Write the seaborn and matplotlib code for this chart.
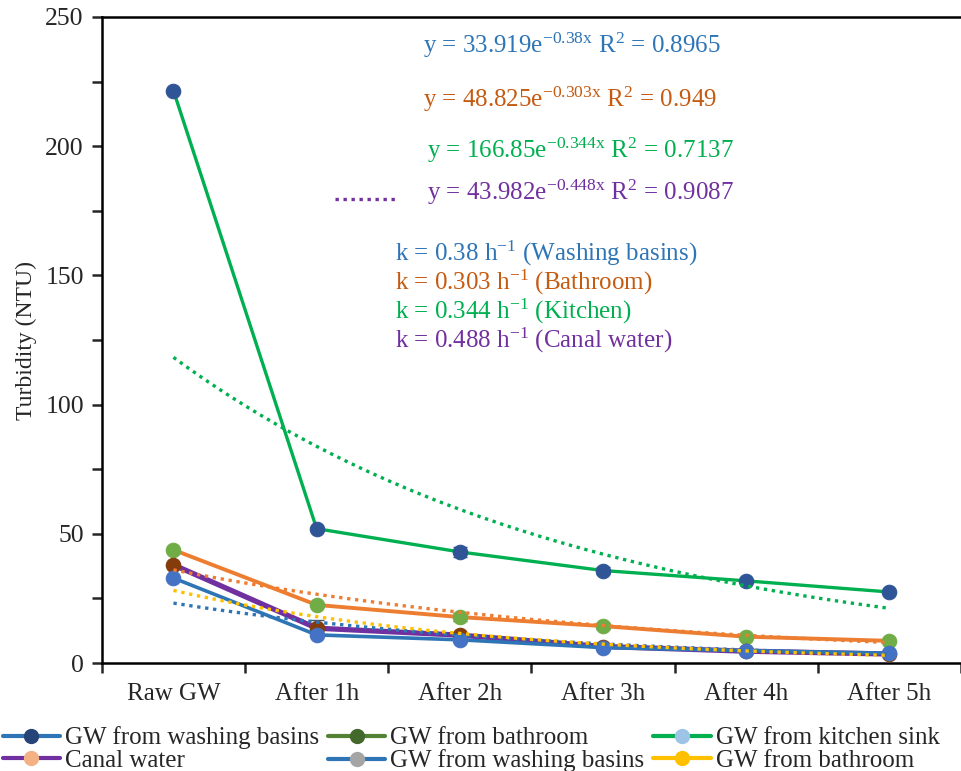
import numpy as np
import pandas as pd
import seaborn as sns
import matplotlib.pyplot as plt
from matplotlib.lines import Line2D

# values
time_labels = ["Raw GW", "After 1h", "After 2h", "After 3h", "After 4h", "After 5h"]
kitchen = [221.5, 52.0, 43.0, 35.8, 31.8, 27.5]
bathroom = [43.8, 22.5, 17.8, 14.3, 10.2, 8.6]
canal = [38.0, 13.5, 10.8, 6.4, 4.6, 3.5]
basins = [32.9, 10.9, 9.0, 6.0, 4.8, 3.8]

kitchen_err = [0, 0, 1.8, 1.5, 0, 0]
bathroom_err = [0, 0, 1.5, 1.2, 0, 0]
canal_err = [0, 3.0, 0, 0, 0, 0]

# exponential trendlines printed on the chart: y = a*exp(-b*x), x = 1..6
fit_a = [33.919, 48.825, 166.85, 43.982]
fit_b = [0.38, 0.303, 0.344, 0.448]
fit_r2 = ["0.8965", "0.949", "0.7137", "0.9087"]
fit_colors = ["#2E75B6", "#ED7D31", "#00B050", "#FFC000"]
eq_colors = ["#2E75B6", "#C55A11", "#00B050", "#7030A0"]

k_labels = ["k = 0.38 h$^{-1}$ (Washing basins)", "k = 0.303 h$^{-1}$ (Bathroom)",
            "k = 0.344 h$^{-1}$ (Kitchen)", "k = 0.488 h$^{-1}$ (Canal water)"]

legend_labels = ["GW from washing basins", "GW from bathroom", "GW from kitchen sink",
                 "Canal water", "GW from washing basins", "GW from bathroom"]
legend_lines = ["#2E75B6", "#548235", "#00B050", "#7030A0", "#2E75B6", "#FFC000"]
legend_marks = ["#264478", "#43682B", "#9DC3E6", "#F4B183", "#A5A5A5", "#FFC000"]

sns.set_style("ticks")
plt.rcParams["font.family"] = ["Liberation Serif", "DejaVu Serif"]
plt.rcParams["mathtext.fontset"] = "custom"
plt.rcParams["mathtext.rm"] = "Liberation Serif"
plt.rcParams["mathtext.default"] = "regular"

x = np.arange(len(time_labels))
df = pd.DataFrame({"x": x, "kitchen": kitchen, "bathroom": bathroom,
                   "canal": canal, "basins": basins})

fig = plt.figure(figsize=(9.61, 7.71), dpi=100)
ax = fig.add_axes([0.106, 0.14, 0.894, 0.838])

series = [
    ("kitchen", "#00B050", "#2F5597", 2.4, kitchen_err),
    ("bathroom", "#ED7D31", "#70AD47", 2.8, bathroom_err),
    ("canal", "#7030A0", "#843C0C", 3.8, canal_err),
    ("basins", "#2E75B6", "#4472C4", 2.6, None),
]
for name, col, mcol, lw, err in series:
    if err is not None:
        ax.errorbar(df["x"], df[name], yerr=err, fmt="none", ecolor="#44546A",
                    elinewidth=1.2, capsize=5, zorder=2)
    sns.lineplot(data=df, x="x", y=name, color=col, lw=lw, marker="o",
                 markersize=10.5, markerfacecolor=mcol, markeredgecolor=mcol, ax=ax, zorder=3)

# dotted exponential trendlines
xs = np.linspace(0, 5, 200)
for a, b, col in zip(fit_a, fit_b, fit_colors):
    ax.plot(xs, a * np.exp(-b * (xs + 1)), color=col, lw=2.4,
            linestyle=(0, (1, 1.4)), zorder=4)

# equation labels
eq_y = [239, 218.3, 198.5, 182.3]
eq_x = [1.74, 1.74, 1.77, 1.77]
for i in range(4):
    ax.text(eq_x[i], eq_y[i],
            "y = %se$^{-%sx}$ R$^{2}$ = %s" % (fit_a[i], fit_b[i], fit_r2[i]),
            color=eq_colors[i], fontsize=18, va="center", ha="left")
ax.plot([1.125, 1.578], [179.6, 179.6], color="#7030A0", lw=2.4,
        linestyle=(0, (1, 1.4)))
for i, lab in enumerate(k_labels):
    ax.text(1.544, 158.6 - i * 11.2, lab, color=eq_colors[i], fontsize=18,
            va="center", ha="left")

ax.set_xlim(-0.5, 5.5)
ax.set_ylim(0, 250)
ax.set_xticks(x)
ax.set_xticklabels(time_labels, fontsize=18)
ax.set_xticks(np.arange(-0.5, 5.6, 1), minor=True)
ax.tick_params(axis="x", which="major", length=0, pad=14)
ax.tick_params(axis="x", which="minor", length=7, width=1.8, direction="out")
ax.set_yticks(np.arange(0, 251, 50))
ax.set_yticks(np.arange(25, 250, 50), minor=True)
ax.tick_params(axis="y", which="both", length=7, width=1.8, labelsize=18.5, pad=6)
ax.set_xlabel("")
ax.set_ylabel("Turbidity (NTU)", fontsize=17, labelpad=6)
for s in ["left", "bottom", "top"]:
    ax.spines[s].set_linewidth(1.8)
    ax.spines[s].set_color("black")
ax.spines["right"].set_visible(False)

# legend (entries as shown, filled row by row)
handles = [Line2D([0], [0], color=lc, lw=3, marker="o", markersize=10,
                  markerfacecolor=mc, markeredgecolor=mc)
           for lc, mc in zip(legend_lines, legend_marks)]
order = [0, 3, 1, 4, 2, 5]
fig.legend([handles[i] for i in order], [legend_labels[i] for i in order],
           ncol=3, loc="lower left", bbox_to_anchor=(0.0, -0.005), frameon=False,
           fontsize=18, handlelength=2.3, handletextpad=0.2, columnspacing=0.35,
           labelspacing=0.0, borderaxespad=0.0, borderpad=0.1)

fig.savefig("out.png", dpi=100)
